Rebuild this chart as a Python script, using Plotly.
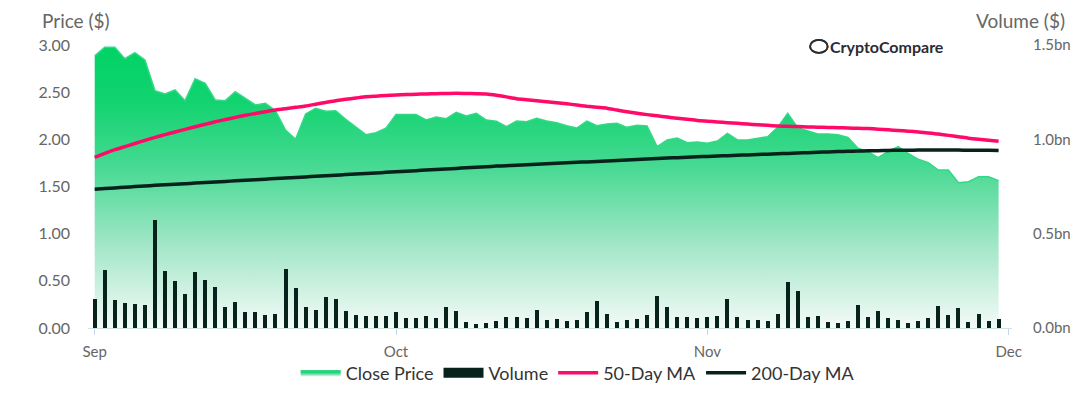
import pandas as pd
import plotly.graph_objects as go

# ---------------- data ----------------
start_date = "2023-09-01"
n_days = 91
dates = pd.date_range(start_date, periods=n_days, freq="D")

close_sep = [2.884, 2.976, 2.976, 2.855, 2.919, 2.841, 2.516, 2.481, 2.523, 2.410,
             2.643, 2.594, 2.417, 2.410, 2.505, 2.435, 2.364, 2.382, 2.304, 2.099,
             2.000, 2.269, 2.329, 2.297, 2.304, 2.212, 2.134, 2.049, 2.070, 2.117]
close_oct = [2.262, 2.262, 2.262, 2.205, 2.237, 2.219, 2.287, 2.247, 2.276, 2.205,
             2.191, 2.134, 2.194, 2.187, 2.223, 2.194, 2.177, 2.145, 2.120, 2.194,
             2.145, 2.163, 2.170, 2.127, 2.148, 2.141, 1.922, 1.993, 2.014, 1.965,
             1.972]
close_nov = [1.958, 1.982, 2.064, 1.993, 1.993, 2.014, 2.028, 2.127, 2.276, 2.124,
             2.092, 2.057, 2.057, 2.049, 2.021, 1.905, 1.869, 1.806, 1.873, 1.922,
             1.852, 1.788, 1.753, 1.675, 1.675, 1.541, 1.551, 1.604, 1.604, 1.562]

volume_sep = [0.155, 0.309, 0.150, 0.134, 0.129, 0.124, 0.574, 0.300, 0.247, 0.182,
              0.295, 0.256, 0.217, 0.110, 0.136, 0.086, 0.085, 0.070, 0.074, 0.313,
              0.210, 0.111, 0.097, 0.164, 0.154, 0.090, 0.069, 0.064, 0.065, 0.064]
volume_oct = [0.083, 0.053, 0.053, 0.064, 0.055, 0.110, 0.092, 0.030, 0.021, 0.026,
              0.039, 0.060, 0.060, 0.055, 0.095, 0.044, 0.046, 0.039, 0.042, 0.083,
              0.141, 0.074, 0.034, 0.044, 0.049, 0.069, 0.170, 0.110, 0.058, 0.058,
              0.055]
volume_nov = [0.058, 0.064, 0.154, 0.060, 0.041, 0.042, 0.035, 0.074, 0.244, 0.196,
              0.058, 0.065, 0.030, 0.026, 0.035, 0.122, 0.060, 0.092, 0.055, 0.042,
              0.028, 0.039, 0.055, 0.117, 0.071, 0.106, 0.032, 0.074, 0.039, 0.049]

ma50 = [1.809, 1.850, 1.890, 1.922, 1.956, 1.989, 2.021, 2.050, 2.078, 2.106,
        2.133, 2.160, 2.187, 2.210, 2.233, 2.255, 2.274, 2.293, 2.311, 2.325,
        2.339, 2.353, 2.372, 2.391, 2.410, 2.424, 2.438, 2.452, 2.458, 2.464,
        2.470, 2.474, 2.478, 2.481, 2.484, 2.486, 2.488, 2.486, 2.484, 2.481,
        2.468, 2.450, 2.431, 2.420, 2.410, 2.399, 2.387, 2.377, 2.364, 2.350,
        2.339, 2.330, 2.310, 2.293, 2.277, 2.262, 2.249, 2.236, 2.224, 2.212,
        2.200, 2.192, 2.184, 2.176, 2.170, 2.162, 2.155, 2.148, 2.142, 2.138,
        2.135, 2.132, 2.129, 2.126, 2.123, 2.120, 2.117, 2.114, 2.108, 2.101,
        2.094, 2.087, 2.077, 2.067, 2.056, 2.042, 2.028, 2.012, 2.000, 1.990,
        1.979]

ma200 = [1.470, 1.478, 1.485, 1.492, 1.499, 1.506, 1.512, 1.518, 1.524, 1.530,
         1.536, 1.542, 1.548, 1.554, 1.560, 1.566, 1.572, 1.578, 1.584, 1.590,
         1.596, 1.602, 1.608, 1.614, 1.620, 1.626, 1.632, 1.638, 1.644, 1.650,
         1.656, 1.662, 1.668, 1.674, 1.680, 1.686, 1.692, 1.698, 1.704, 1.710,
         1.716, 1.721, 1.726, 1.731, 1.736, 1.741, 1.746, 1.751, 1.756, 1.761,
         1.766, 1.771, 1.776, 1.781, 1.786, 1.791, 1.796, 1.801, 1.806, 1.811,
         1.815, 1.819, 1.823, 1.827, 1.831, 1.835, 1.839, 1.843, 1.847, 1.851,
         1.855, 1.859, 1.863, 1.867, 1.870, 1.873, 1.876, 1.878, 1.880, 1.882,
         1.884, 1.885, 1.886, 1.887, 1.887, 1.887, 1.886, 1.885, 1.884, 1.883,
         1.882]

close_price = close_sep + close_oct + close_nov
volume_bn = volume_sep + volume_oct + volume_nov

price_ticks = [0, 0.5, 1.0, 1.5, 2.0, 2.5, 3.0]
volume_ticks = [0, 0.5, 1.0, 1.5]
volume_tick_text = [f"{v:.1f}bn" for v in volume_ticks]

# ---------------- styles ----------------
FONT = "Lato, 'Open Sans', sans-serif"
GREEN = "rgb(0,210,100)"
GREEN_LINE = "rgb(52,216,134)"
PINK = "rgb(255,10,105)"
DARK = "rgb(6,34,27)"
LABEL_GREY = "#666666"
BAR_WIDTH_MS = 0.4 * 86400000

fig = go.Figure()

fig.add_trace(go.Scatter(
    x=dates, y=close_price, name="Close Price", mode="lines",
    line=dict(color=GREEN_LINE, width=1.5),
    fill="tozeroy",
    fillgradient=dict(
        type="vertical", start=0, stop=3.0,
        colorscale=[[0.0, "rgb(244,250,248)"],
                    [0.3, "rgb(160,230,198)"],
                    [0.58, "rgb(68,217,145)"],
                    [0.8, "rgb(18,211,112)"],
                    [1.0, GREEN]]),
    yaxis="y",
))

fig.add_trace(go.Bar(
    x=dates, y=volume_bn, name="Volume", yaxis="y2",
    marker=dict(color=DARK, line=dict(width=0)),
    width=BAR_WIDTH_MS, showlegend=False,
))
# legend proxy for the volume bars (rectangular key like the reference)
fig.add_trace(go.Scatter(
    x=[None], y=[None], name="Volume", mode="lines",
    line=dict(color=DARK, width=10), yaxis="y",
))

fig.add_trace(go.Scatter(
    x=dates, y=ma50, name="50-Day MA", mode="lines",
    line=dict(color=PINK, width=3.5, shape="spline", smoothing=0.6),
    yaxis="y",
))

fig.add_trace(go.Scatter(
    x=dates, y=ma200, name="200-Day MA", mode="lines",
    line=dict(color=DARK, width=3.5, shape="spline", smoothing=0.6),
    yaxis="y",
))

# vertical edges of the area outline
for i in (0, len(dates) - 1):
    fig.add_shape(type="line", xref="x", yref="y",
                  x0=dates[i], x1=dates[i], y0=0, y1=close_price[i],
                  line=dict(color=GREEN_LINE, width=1.5), layer="below")

fig.update_layout(
    width=1092, height=394,
    margin=dict(l=88, r=80, t=45, b=66, autoexpand=False),
    paper_bgcolor="white", plot_bgcolor="white",
    font=dict(family=FONT, color=LABEL_GREY, size=15),
    bargap=0,
    showlegend=True,
    legend=dict(orientation="h", xref="container", yref="container",
                x=0.529, xanchor="center", y=0.053, yanchor="middle",
                bgcolor="rgba(0,0,0,0)",
                font=dict(size=18, color="#333333", family=FONT),
                itemwidth=40, tracegroupgap=0),
    xaxis=dict(type="date",
               range=["2023-08-31 08:00", "2023-12-01 08:00"],
               dtick="M1", tickformat="%b", tick0="2023-09-01",
               showgrid=False, zeroline=False, automargin=False,
               showline=True, linecolor="#cde8da", linewidth=1,
               ticks="outside", ticklen=6, tickcolor="#ccd6eb",
               ticklabelstandoff=4,
               tickfont=dict(size=15, color=LABEL_GREY)),
    yaxis=dict(range=[0, 3.0], tickvals=price_ticks, tickformat=".2f",
               showgrid=False, zeroline=False, showline=False, automargin=False,
               ticks="", ticklabelstandoff=17,
               tickfont=dict(size=16, color=LABEL_GREY)),
    yaxis2=dict(range=[0, 1.5], tickvals=volume_ticks, ticktext=volume_tick_text,
                overlaying="y", side="right", automargin=False,
                showgrid=False, zeroline=False, showline=False,
                ticks="", ticklabelstandoff=20,
                tickfont=dict(size=15, color=LABEL_GREY)),
    annotations=[
        dict(text="Price ($)", xref="paper", yref="paper",
             x=-0.052, y=1.088, xanchor="left", yanchor="middle",
             showarrow=False, font=dict(size=19, color=LABEL_GREY, family=FONT)),
        dict(text="Volume ($)", xref="paper", yref="paper",
             x=1.059, y=1.088, xanchor="right", yanchor="middle",
             showarrow=False, font=dict(size=19, color=LABEL_GREY, family=FONT)),
        dict(text="<b>CryptoCompare</b>", xref="paper", yref="paper",
             x=0.801, y=0.996, xanchor="left", yanchor="middle",
             showarrow=False, font=dict(size=16, color="#2b2b33", family=FONT)),
    ],
    shapes=[
        dict(type="circle", xref="paper", yref="paper",
             x0=0.7815, x1=0.8005, y0=0.972, y1=1.018,
             line=dict(color="#2b2b33", width=1.8)),
    ],
)

fig.write_html("out.html",
               config={"displayModeBar": False},
               post_script="document.body.style.margin='0';document.body.style.padding='0';")
